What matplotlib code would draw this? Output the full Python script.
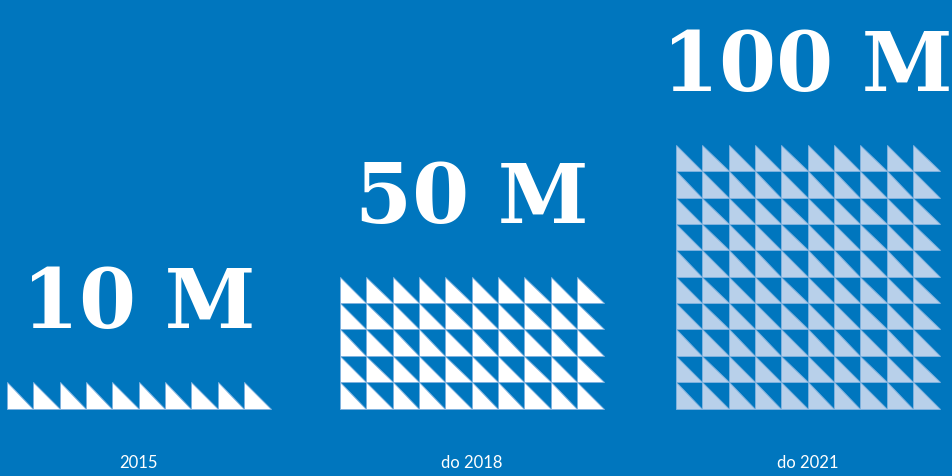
import matplotlib
matplotlib.use("Agg")
import matplotlib.pyplot as plt
from matplotlib.patches import Polygon

# Data
years = ["2015", "do 2018", "do 2021"]
values = [10, 50, 100]          # millions; one triangle = 1 M
value_labels = ["10 M", "50 M", "100 M"]
fill_colors = ["#FFFFFF", "#FFFFFF", "#B8D0EA"]

# Layout (pixels)
W, H = 952, 476
BG = "#0076BE"
per_row = 10
cell = 26.35
group_left = [7, 340, 676]
bottom = 408.5

fig = plt.figure(figsize=(W / 100, H / 100), dpi=100, facecolor=BG)
ax = fig.add_axes([0, 0, 1, 1])
ax.set_xlim(0, W)
ax.set_ylim(H, 0)
ax.axis("off")
ax.set_facecolor(BG)

for g, (val, lab, yr, col) in enumerate(zip(values, value_labels, years, fill_colors)):
    rows = val // per_row
    x0 = group_left[g]
    for i in range(val):
        r = i // per_row
        c = i % per_row
        xl = x0 + c * cell
        yb = bottom - r * cell
        yt = yb - cell
        tri = Polygon([(xl, yt), (xl, yb), (xl + cell, yb)], closed=True,
                      facecolor=col, edgecolor="#7FB2DF", linewidth=0.7)
        ax.add_patch(tri)
    cx = x0 + per_row * cell / 2
    top = bottom - rows * cell
    ax.text(cx, top - 54, lab, ha="center", va="baseline", color="white",
            fontsize=59, fontweight="bold", family="DejaVu Serif")
    ax.text(cx, 468, yr, ha="center", va="baseline", color="white",
            fontsize=12, family="Lato", fontweight="normal")

fig.savefig("out.png", dpi=100, facecolor=BG)
